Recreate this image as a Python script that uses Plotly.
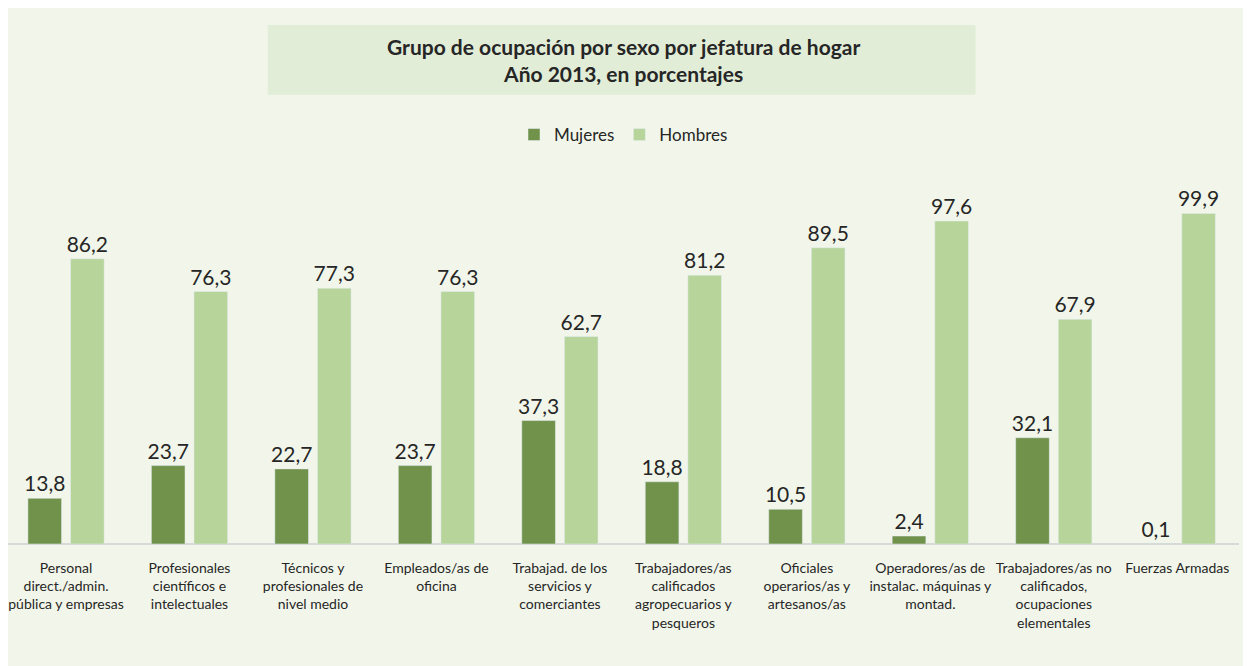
import plotly.graph_objects as go

categories = [
    "Personal<br>direct./admin.<br>pública y empresas",
    "Profesionales<br>científicos e<br>intelectuales",
    "Técnicos y<br>profesionales de<br>nivel medio",
    "Empleados/as de<br>oficina",
    "Trabajad. de los<br>servicios y<br>comerciantes",
    "Trabajadores/as<br>calificados<br>agropecuarios y<br>pesqueros",
    "Oficiales<br>operarios/as y<br>artesanos/as",
    "Operadores/as de<br>instalac. máquinas y<br>montad.",
    "Trabajadores/as no<br>calificados,<br>ocupaciones<br>elementales",
    "Fuerzas Armadas",
]
mujeres = [13.8, 23.7, 22.7, 23.7, 37.3, 18.8, 10.5, 2.4, 32.1, 0.1]
hombres = [86.2, 76.3, 77.3, 76.3, 62.7, 81.2, 89.5, 97.6, 67.9, 99.9]

FONT = "Lato, Open Sans, sans-serif"
BG = "#F2F6EA"
TXT = "#262626"

fig = go.Figure()
for name, vals, col in [("Mujeres", mujeres, "#71924A"), ("Hombres", hombres, "#B7D49A")]:
    fig.add_trace(go.Bar(
        name=name, x=list(range(len(categories))), y=vals,
        marker_color=col, texttemplate="%{y:.1f}", textposition="outside",
        constraintext="none",
        textfont=dict(size=21, color=TXT, family=FONT), cliponaxis=False,
    ))

fig.update_layout(
    width=1243, height=658,
    paper_bgcolor=BG, plot_bgcolor=BG,
    separators=",.",
    barmode="group", bargap=0.31, bargroupgap=0.21,
    margin=dict(l=0, r=12, t=172, b=122, autoexpand=False),
    font=dict(family=FONT, color=TXT),
    showlegend=True,
    legend=dict(orientation="h", x=0.5, xanchor="center", y=0.807, yanchor="middle",
                yref="container", font=dict(size=17, color=TXT, family=FONT),
                bgcolor="rgba(0,0,0,0)", traceorder="normal"),
    xaxis=dict(
        tickmode="array", tickvals=list(range(len(categories))), ticktext=categories,
        tickfont=dict(size=14, color=TXT, family=FONT), tickangle=0,
        ticklabelstandoff=14, ticklabeloverflow="allow",
        showgrid=False, zeroline=False, showline=False, ticks="",
        range=[-0.47, 9.5], automargin=False,
    ),
    yaxis=dict(range=[0, 110], showgrid=False, zeroline=True, zerolinecolor="#D9D9D9",
               zerolinewidth=2, showticklabels=False, showline=False),
    shapes=[dict(type="rect", xref="paper", yref="paper", x0=0.211, x1=0.786,
                 y0=1.234, y1=1.426, fillcolor="#E2EDD8", line=dict(width=0), layer="below")],
    annotations=[dict(text="<b>Grupo de ocupación por sexo por jefatura de hogar<br>Año 2013, en porcentajes</b>",
                      xref="paper", yref="paper", x=0.5, y=1.33, xanchor="center", yanchor="middle",
                      showarrow=False, font=dict(size=21, color=TXT, family=FONT))],
)

fig.write_html("out.html")
